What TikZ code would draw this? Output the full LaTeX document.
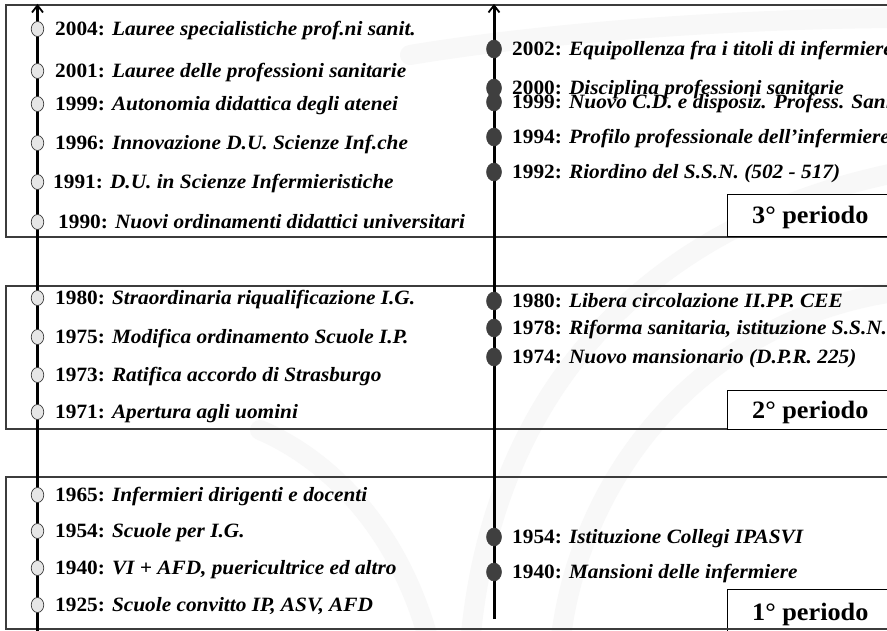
\documentclass[tikz,border=0pt]{standalone}
\usepackage{fontspec}
\setmainfont{Liberation Serif}[FakeStretch=1.05]
\usetikzlibrary{arrows.meta,shapes.geometric}

\definecolor{framegray}{HTML}{3C3C3C}
\definecolor{dotlight}{HTML}{E6E6E6}
\definecolor{dotdark}{HTML}{3F3F3F}
\definecolor{swooshgray}{HTML}{F8F8F8}

\newcommand{\yr}[1]{\textbf{#1}}
\newcommand{\ds}[1]{\textbf{\textit{#1}}}

\tikzset{
  swoosh/.style={draw=swooshgray, line width=20pt, line cap=round},
  panel/.style={draw=framegray, line width=1.2pt},
  timeaxis/.style={line width=3pt, -{Straight Barb[length=7pt,width=11pt,line width=1.8pt]}},
  opendot/.style={ellipse, draw=framegray, fill=dotlight, line width=0.7pt,
    minimum width=12.5pt, minimum height=15pt, inner sep=0pt},
  fulldot/.style={ellipse, draw=dotdark, fill=dotdark, line width=0.5pt,
    minimum width=15pt, minimum height=18pt, inner sep=0pt},
  evt/.style={anchor=base west, inner sep=0pt, font=\fontsize{20.3}{22}\selectfont},
  periodbox/.style={draw=black, fill=white, line width=1pt},
  periodtxt/.style={anchor=base west, inner sep=0pt, font=\fontsize{25}{28}\selectfont\bfseries},
}

\begin{document}
\begin{tikzpicture}[x=1pt, y=-1pt]
\useasboundingbox (0,0) rectangle (887,631);
\clip (0,0) rectangle (887,631);
\fill[white] (0,0) rectangle (887,631);

% faint background swooshes
\draw[swoosh] (410,55) .. controls (560,30) and (760,18) .. (910,18);
\draw[swoosh] (910,170) .. controls (640,220) and (490,400) .. (470,645);
\draw[swoosh] (910,290) .. controls (720,310) and (580,460) .. (560,645);
\draw[swoosh] (260,430) .. controls (330,460) and (400,530) .. (430,645);

% period panels
\draw[panel] (910,5) -- (6,5) -- (6,237) -- (910,237);
\draw[panel] (910,286) -- (6,286) -- (6,429) -- (910,429);
\draw[panel] (910,477) -- (6,477) -- (6,629) -- (910,629);

% time axes
\coordinate (ltop) at (37.5,4);
\coordinate (lbot) at (37.5,640);
\coordinate (rtop) at (494,4);
\coordinate (rbot) at (494,619);
\draw[timeaxis] (lbot) -- (ltop);
\draw[timeaxis] (rbot) -- (rtop);

% period boxes
\draw[periodbox] (727,195) rectangle (910,237);
\draw[periodbox] (727,390) rectangle (910,429);
\draw[periodbox] (727,589) rectangle (910,640);
\draw[panel] (727,629) -- (910,629);
\node[periodtxt] (p3) at (752,224) {3° periodo};
\node[periodtxt] (p2) at (752,418) {2° periodo};
\node[periodtxt] (p1) at (752,620) {1° periodo};

% left column: training
\foreach \n/\y/\x/\txt in {
  a2004/29/55/{\yr{2004:} \ds{Lauree specialistiche prof.ni sanit.}},
  a2001/71/55/{\yr{2001:} \ds{Lauree delle professioni sanitarie}},
  a1999/104/55/{\yr{1999:} \ds{Autonomia didattica degli atenei}},
  a1996/143/55/{\yr{1996:} \ds{Innovazione D.U. Scienze Inf.che}},
  a1991/182/53/{\yr{1991:} \ds{D.U. in Scienze Infermieristiche}},
  a1990/222/58/{\yr{1990:} \ds{Nuovi ordinamenti didattici universitari}},
  a1980/298/55/{\yr{1980:} \ds{Straordinaria riqualificazione I.G.}},
  a1975/337/55/{\yr{1975:} \ds{Modifica ordinamento Scuole I.P.}},
  a1973/375/55/{\yr{1973:} \ds{Ratifica accordo di Strasburgo}},
  a1971/412/55/{\yr{1971:} \ds{Apertura agli uomini}},
  a1965/495/55/{\yr{1965:} \ds{Infermieri dirigenti e docenti}},
  a1954/531/55/{\yr{1954:} \ds{Scuole per I.G.}},
  a1940/568/55/{\yr{1940:} \ds{VI + AFD, puericultrice ed altro}},
  a1925/605/55/{\yr{1925:} \ds{Scuole convitto IP, ASV, AFD}}}
{
  \node[opendot] (d\n) at (37.5,\y) {};
  \node[evt] (t\n) at (\x,\y+6.5) {\txt};
}

% right column: legislation
\foreach \n/\y/\txt in {
  b2002/49/{\yr{2002:} \ds{Equipollenza fra i titoli di infermiere}},
  b2000/88/{\yr{2000:} \ds{Disciplina professioni sanitarie}},
  b1999/102/{\yr{1999:} \ds{Nuovo C.D. e disposiz. Profess. Sanitarie}},
  b1994/137/{\yr{1994:} \ds{Profilo professionale dell’infermiere}},
  b1992/172/{\yr{1992:} \ds{Riordino del S.S.N. (502 - 517)}},
  b1980/301/{\yr{1980:} \ds{Libera circolazione II.PP. CEE}},
  b1978/328/{\yr{1978:} \ds{Riforma sanitaria, istituzione S.S.N.}},
  b1974/357/{\yr{1974:} \ds{Nuovo mansionario (D.P.R. 225)}},
  b1954/537/{\yr{1954:} \ds{Istituzione Collegi IPASVI}},
  b1940/572/{\yr{1940:} \ds{Mansioni delle infermiere}}}
{
  \node[fulldot] (d\n) at (494,\y) {};
  \node[evt] (t\n) at (512,\y+6.5) {\txt};
}
\end{tikzpicture}
\end{document}
